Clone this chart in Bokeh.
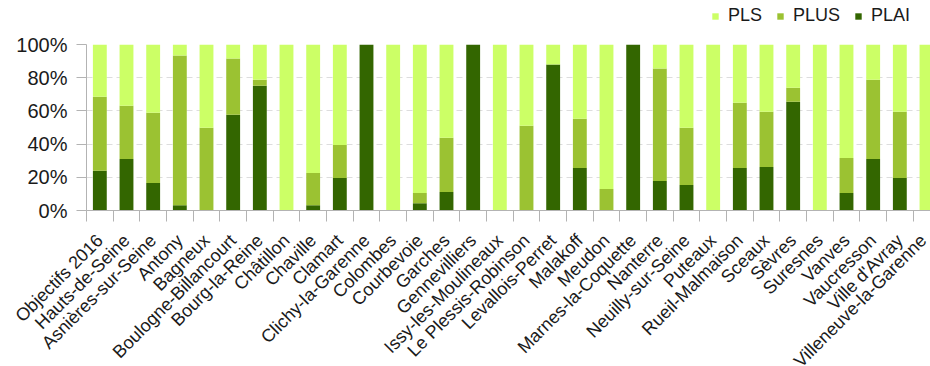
import math
from bokeh.plotting import figure
from bokeh.layouts import column
from bokeh.models import (ColumnDataSource, FixedTicker, NumeralTickFormatter,
                          Legend, LegendItem, Range1d)
from bokeh.embed import file_html
from bokeh.resources import INLINE

communes = ["Objectifs 2016", "Hauts-de-Seine", "Asnières-sur-Seine", "Antony", "Bagneux",
            "Boulogne-Billancourt", "Bourg-la-Reine", "Châtillon", "Chaville", "Clamart",
            "Clichy-la-Garenne", "Colombes", "Courbevoie", "Garches", "Gennevilliers",
            "Issy-les-Moulineaux", "Le Plessis-Robinson", "Levallois-Perret", "Malakoff", "Meudon",
            "Marnes-la-Coquette", "Nanterre", "Neuilly-sur-Seine", "Puteaux", "Rueil-Malmaison",
            "Sceaux", "Sèvres", "Suresnes", "Vanves", "Vaucresson", "Ville d'Avray",
            "Villeneuve-la-Garenne"]

plai = [24, 31, 16.5, 3.2, 0, 57.7, 75.2, 0, 3.2, 19.6,
        100, 0, 4.4, 11.1, 100, 0, 0, 87.9, 25.6, 0,
        100, 17.7, 15.3, 0, 25.6, 26.2, 65.5, 0, 10.5, 31.0, 19.6, 0]
plus = [44.5, 32.1, 42.4, 90.1, 49.8, 33.8, 3.6, 0, 19.4, 19.9,
        0, 0, 6.1, 32.7, 0, 0, 51, 0, 29.6, 12.9,
        0, 67.8, 34.5, 0, 39.3, 33.3, 8.5, 0, 21.2, 47.8, 39.9, 0]
pls = [100 - a - b for a, b in zip(plai, plus)]

series = ["PLS", "PLUS", "PLAI"]
colors = {"PLAI": "#336600", "PLUS": "#9bc232", "PLS": "#ccff66"}
y_ticks = [0, 0.2, 0.4, 0.6, 0.8, 1.0]

x = list(range(len(communes)))
src = ColumnDataSource(dict(
    x=x,
    plai=[v / 100 for v in plai],
    plus=[v / 100 for v in plus],
    pls=[v / 100 for v in pls],
))

FONT = "Liberation Sans"
stack_cols = ["plai", "plus", "pls"]
stack_colors = [colors["PLAI"], colors["PLUS"], colors["PLS"]]

# ---- legend strip (top): same stacked bars, kept outside its visible range ----
lg = figure(frame_width=844, height=32, output_backend="svg", toolbar_location=None,
            x_axis_type=None, y_axis_type=None,
            x_range=Range1d(-0.5, 31.15), y_range=Range1d(2, 3),
            min_border_left=86, min_border_right=0, min_border_top=0, min_border_bottom=0)
lg.outline_line_color = None
lg.xgrid.grid_line_color = None
lg.ygrid.grid_line_color = None
lr = lg.vbar_stack(stack_cols, x="x", width=0.52, source=src,
                   color=stack_colors, line_color=None)
lrs = {"PLAI": lr[0], "PLUS": lr[1], "PLS": lr[2]}
legend = Legend(items=[LegendItem(label=s, renderers=[lrs[s]]) for s in series],
                orientation="horizontal", location=(625, 6),
                glyph_width=8, glyph_height=8, label_standoff=9, spacing=14,
                label_height=18, padding=0, margin=0, border_line_color=None,
                background_fill_alpha=0,
                label_text_font=FONT, label_text_font_size="18px",
                label_text_color="#1a1a1a")
lg.add_layout(legend, "center")

# ---- main chart ----
p = figure(frame_width=844, frame_height=166, output_backend="svg", toolbar_location=None,
           x_range=Range1d(-0.5, 31.15), y_range=Range1d(0, 1),
           min_border_left=86, min_border_right=0, min_border_top=12, min_border_bottom=0)
p.outline_line_color = None

p.vbar_stack(stack_cols, x="x", width=0.52, source=src,
             color=stack_colors, line_color=None)

p.xaxis.ticker = FixedTicker(ticks=x, minor_ticks=[i - 0.5 for i in range(len(communes) + 1)])
p.xaxis.major_label_overrides = {i: c for i, c in enumerate(communes)}
p.xaxis.major_label_orientation = math.pi / 4
p.xaxis.major_tick_line_color = None
p.xaxis.minor_tick_line_color = "#b3b3b3"
p.xaxis.minor_tick_out = 11
p.xaxis.minor_tick_in = 0
p.xaxis.axis_line_color = "#b3b3b3"
p.xaxis.major_label_text_font = FONT
p.xaxis.major_label_text_font_size = "18px"
p.xaxis.major_label_text_color = "#1a1a1a"
p.xaxis.major_label_standoff = 16

p.yaxis.ticker = FixedTicker(ticks=y_ticks)
p.yaxis.formatter = NumeralTickFormatter(format="0%")
p.yaxis.axis_line_color = "#b3b3b3"
p.yaxis.major_tick_line_color = "#b3b3b3"
p.yaxis.major_tick_out = 10
p.yaxis.major_tick_in = 0
p.yaxis.minor_tick_line_color = None
p.yaxis.major_label_text_font = FONT
p.yaxis.major_label_text_font_size = "20px"
p.yaxis.major_label_text_color = "#1a1a1a"
p.yaxis.major_label_standoff = 9

p.xgrid.grid_line_color = None
p.ygrid.grid_line_color = "#dddddd"
p.ygrid.grid_line_dash = "6 4"

layout = column(lg, p, spacing=0)
open("out.html", "w").write(file_html(layout, INLINE))
